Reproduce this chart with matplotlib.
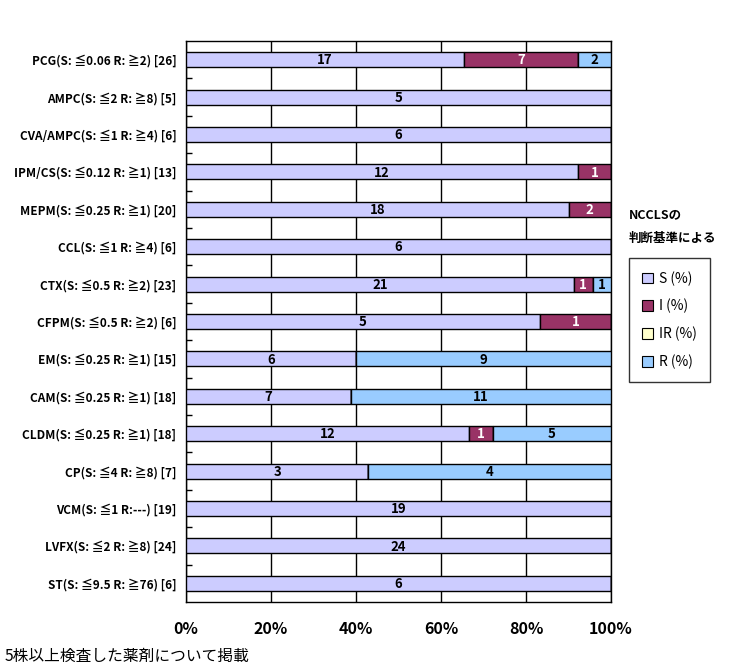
import numpy as np
import matplotlib
matplotlib.use("Agg")
from matplotlib import pyplot as plt

plt.rcParams['font.family'] = ['Noto Sans CJK JP', 'DejaVu Sans']

drugs = ["PCG(S: ≦0.06 R: ≧2) [26]", "AMPC(S: ≦2 R: ≧8) [5]", "CVA/AMPC(S: ≦1 R: ≧4) [6]",
         "IPM/CS(S: ≦0.12 R: ≧1) [13]", "MEPM(S: ≦0.25 R: ≧1) [20]", "CCL(S: ≦1 R: ≧4) [6]",
         "CTX(S: ≦0.5 R: ≧2) [23]", "CFPM(S: ≦0.5 R: ≧2) [6]", "EM(S: ≦0.25 R: ≧1) [15]",
         "CAM(S: ≦0.25 R: ≧1) [18]", "CLDM(S: ≦0.25 R: ≧1) [18]", "CP(S: ≦4 R: ≧8) [7]",
         "VCM(S: ≦1 R:---) [19]", "LVFX(S: ≦2 R: ≧8) [24]", "ST(S: ≦9.5 R: ≧76) [6]"]
S = [17, 5, 6, 12, 18, 6, 21, 5, 6, 7, 12, 3, 19, 24, 6]
I = [7, 0, 0, 1, 2, 0, 1, 1, 0, 0, 1, 0, 0, 0, 0]
IR = [0, 0, 0, 0, 0, 0, 0, 0, 0, 0, 0, 0, 0, 0, 0]
R = [2, 0, 0, 0, 0, 0, 1, 0, 9, 11, 5, 4, 0, 0, 0]
xticks = ["0%", "20%", "40%", "60%", "80%", "100%"]

series = [("S (%)", S, "#CCCCFF", "black"),
          ("I (%)", I, "#993366", "white"),
          ("IR (%)", IR, "#FFFFCC", "black"),
          ("R (%)", R, "#99CCFF", "black")]

counts = np.array([S, I, IR, R], dtype=float)
total = counts.sum(axis=0)
pct = counts / total * 100

fig = plt.figure(figsize=(7.37, 6.71), dpi=100)
ax = fig.add_axes([186/737, 1-602/671, 425/737, 561/671])

y = np.arange(len(drugs))
left = np.zeros(len(drugs))
for k, (name, vals, col, tcol) in enumerate(series):
    ax.barh(y, pct[k], left=left, height=0.4, color=col, edgecolor="black",
            linewidth=1, label=name, zorder=3)
    for i in range(len(drugs)):
        if vals[i] > 0:
            ax.text(left[i] + pct[k][i] / 2, y[i] + 0.02, str(vals[i]), ha="center", va="center",
                    color=tcol, fontsize=9.5, fontweight="bold", zorder=4)
    left += pct[k]

ax.set_xlim(0, 100)
ax.set_ylim(len(drugs) - 0.5, -0.5)
ax.set_xticks(np.arange(0, 101, 20))
ax.set_xticklabels(xticks, fontsize=11.5, fontweight="bold")
ax.tick_params(axis="x", length=0, pad=14)
ax.grid(axis="x", color="black", linewidth=1, zorder=0)
ax.set_yticks(y)
ax.set_yticklabels(drugs, fontsize=8.5, fontweight="bold")
ax.tick_params(axis="y", length=0, pad=7)
ax.set_yticks(np.arange(0.5, len(drugs) - 1, 1), minor=True)
ax.tick_params(axis="y", which="minor", direction="in", length=4, width=1)
for sp in ax.spines.values():
    sp.set_linewidth(1)

leg = fig.legend(loc="upper left", bbox_to_anchor=(629/737, 1-258/671), frameon=True,
                 fancybox=False, edgecolor="black", handlelength=0.8, handleheight=0.8,
                 handletextpad=0.4, labelspacing=0.95, borderpad=0.95, borderaxespad=0,
                 prop={"size": 10})
leg.get_frame().set_linewidth(1)
for h in leg.legend_handles:
    h.set_edgecolor("black")
    h.set_linewidth(0.8)

fig.text(629/737, 1-215/671, "NCCLSの", fontsize=9, fontweight="bold", va="center")
fig.text(629/737, 1-238/671, "判断基準による", fontsize=9, fontweight="bold", va="center")
fig.text(5/737, 1-656/671, "5株以上検査した薬剤について掲載", fontsize=11.3, va="center")

fig.savefig("out.png", dpi=100)
